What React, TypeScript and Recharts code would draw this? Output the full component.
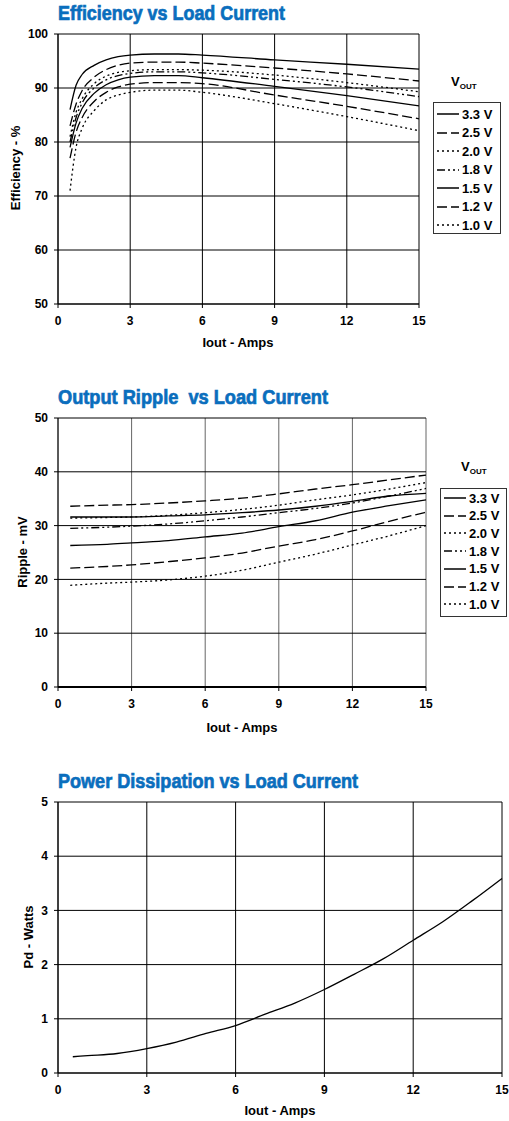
import React from 'react';
import { LineChart, Line, XAxis, YAxis, CartesianGrid } from 'recharts';

// ---------- data ----------
const xTicks = [0, 3, 6, 9, 12, 15];
const voutLabels = ['3.3 V', '2.5 V', '2.0 V', '1.8 V', '1.5 V', '1.2 V', '1.0 V'];

const effCurrent = [0.5, 0.75, 1, 1.5, 2, 2.5, 3, 4, 5, 6, 9, 12, 15];
const eff33 = [86.0, 90.5, 92.5, 94.2, 95.2, 95.8, 96.1, 96.3, 96.3, 96.1, 95.2, 94.4, 93.5];
const eff25 = [83.0, 87.0, 89.5, 92.0, 93.4, 94.2, 94.6, 94.8, 94.8, 94.6, 93.7, 92.6, 91.3];
const eff20 = [81.0, 85.5, 88.0, 90.8, 92.2, 92.9, 93.2, 93.4, 93.4, 93.3, 92.4, 91.0, 89.3];
const eff18 = [80.0, 84.5, 87.2, 90.0, 91.5, 92.3, 92.7, 93.0, 93.0, 92.8, 91.6, 90.2, 88.4];
const eff15 = [79.0, 83.5, 86.2, 89.0, 90.6, 91.5, 92.0, 92.3, 92.3, 91.9, 90.3, 88.6, 86.7];
const eff12 = [77.0, 81.8, 84.5, 87.5, 89.2, 90.2, 90.7, 91.0, 91.0, 90.8, 88.7, 86.6, 84.3];
const eff10 = [71.0, 79.0, 82.5, 85.8, 87.8, 88.7, 89.2, 89.6, 89.6, 89.2, 87.1, 84.7, 82.1];
const effTicks = [50, 60, 70, 80, 90, 100];

const ripCurrent = [0.5, 2, 3, 4.5, 6, 7.5, 9, 10.5, 12, 13.5, 15];
const rip33 = [31.6, 31.6, 31.6, 31.8, 32.0, 32.4, 32.9, 33.6, 34.5, 35.5, 36.0];
const rip25 = [33.6, 33.8, 33.9, 34.2, 34.6, 35.1, 35.9, 36.8, 37.6, 38.5, 39.4];
const rip20 = [31.4, 31.5, 31.6, 31.9, 32.4, 33.0, 33.8, 34.8, 35.7, 36.8, 38.0];
const rip18 = [29.5, 29.7, 29.9, 30.3, 30.9, 31.6, 32.4, 33.2, 34.2, 35.5, 36.9];
const rip15 = [26.3, 26.5, 26.8, 27.2, 27.9, 28.6, 29.8, 30.9, 32.5, 33.7, 34.8];
const rip12 = [22.1, 22.4, 22.7, 23.3, 24.0, 24.9, 26.2, 27.4, 29.0, 30.8, 32.5];
const rip10 = [18.9, 19.3, 19.5, 19.9, 20.6, 21.7, 23.2, 24.7, 26.4, 28.1, 30.0];
const ripTicks = [0, 10, 20, 30, 40, 50];

const pdCurrent = [0.5, 1, 2, 3, 4, 5, 6, 7, 8, 9, 10, 11, 12, 13, 14, 15];
const pdWatts = [0.30, 0.32, 0.36, 0.45, 0.57, 0.73, 0.875, 1.085, 1.29, 1.54, 1.82, 2.11, 2.45, 2.79, 3.18, 3.59];
const pdTicks = [0, 1, 2, 3, 4, 5];

// ---------- styles ----------
const keys = ['v33', 'v25', 'v20', 'v18', 'v15', 'v12', 'v10'];
const dashes = ['', '10 4', '2 3', '8 3 2 3 2 3', '', '10 4', '2 3'];
const FONT = '"Liberation Sans", Arial, sans-serif';
const TITLE_FONT = '"Liberation Sans Narrow", "Liberation Sans", Arial, sans-serif';
const BLUE = '#0a6ebd';

const effData = effCurrent.map((x, i) => ({
  x, v33: eff33[i], v25: eff25[i], v20: eff20[i], v18: eff18[i], v15: eff15[i], v12: eff12[i], v10: eff10[i],
}));
const ripData = ripCurrent.map((x, i) => ({
  x, v33: rip33[i], v25: rip25[i], v20: rip20[i], v18: rip18[i], v15: rip15[i], v12: rip12[i], v10: rip10[i],
}));
const pdData = pdCurrent.map((x, i) => ({ x, pd: pdWatts[i] }));

const tickStyle = { fontFamily: FONT, fontWeight: 700, fontSize: 12, fill: '#000' };

function Legend({ left, top, width, height, rowTop, rowGap, vx, vy }: any) {
  return (
    <>
      <div style={{ position: 'absolute', left: vx - 14, top: vy - 9, fontFamily: FONT, fontWeight: 700, fontSize: 13, color: '#000', whiteSpace: 'nowrap' }}>
        V<span style={{ fontSize: 8, position: 'relative', top: 3 }}>OUT</span>
      </div>
      <div style={{ position: 'absolute', left, top, width, height, border: '1px solid #333', boxSizing: 'border-box', background: '#fff' }}>
        {voutLabels.map((lab, i) => (
          <div key={lab} style={{ position: 'absolute', left: 3, top: rowTop + i * rowGap - 8, height: 16, display: 'flex', alignItems: 'center', whiteSpace: 'nowrap' }}>
            <svg width={22} height={6} style={{ display: 'block' }}>
              <line x1={0} y1={3} x2={22} y2={3} stroke="#000" strokeWidth={1.5} strokeDasharray={dashes[i]} />
            </svg>
            <span style={{ marginLeft: 3, fontFamily: FONT, fontWeight: 700, fontSize: 13, color: '#000' }}>{lab}</span>
          </div>
        ))}
      </div>
    </>
  );
}

export default function App() {
  return (
    <div style={{ position: 'absolute', left: 0, top: 0, width: 509, height: 1121, background: '#fff', overflow: 'hidden' }}>
      {/* Efficiency */}
      <div style={{ position: 'absolute', left: 0, top: 0 }}>
        <LineChart width={509} height={360} data={effData} margin={{ top: 34, right: 90, left: 8, bottom: 26 }}>
          <CartesianGrid stroke="#000" strokeWidth={1} />
          <XAxis dataKey="x" type="number" domain={[0, 15]} ticks={xTicks} height={30} tick={tickStyle} tickSize={4} tickMargin={8} axisLine={{ stroke: '#000' }} tickLine={{ stroke: '#000' }} interval={0} />
          <YAxis type="number" domain={[50, 100]} ticks={effTicks} width={50} tick={tickStyle} tickSize={4} tickMargin={6} axisLine={{ stroke: '#000' }} tickLine={{ stroke: '#000' }} interval={0} />
          {keys.map((k, i) => (
            <Line key={k} dataKey={k} type="monotone" stroke="#000" strokeWidth={1.3} strokeDasharray={dashes[i] || undefined} dot={false} isAnimationActive={false} />
          ))}
        </LineChart>
      </div>
      {/* Ripple */}
      <div style={{ position: 'absolute', left: 0, top: 380 }}>
        <LineChart width={509} height={370} data={ripData} margin={{ top: 38, right: 83, left: 8, bottom: 33 }}>
          <CartesianGrid stroke="#666" strokeWidth={1} horizontal={false} />
          <CartesianGrid stroke="#000" strokeWidth={1} vertical={false} />
          <XAxis dataKey="x" type="number" domain={[0, 15]} ticks={xTicks} height={30} tick={tickStyle} tickSize={4} tickMargin={8} axisLine={{ stroke: '#000', strokeWidth: 2 }} tickLine={{ stroke: '#000' }} interval={0} />
          <YAxis type="number" domain={[0, 50]} ticks={ripTicks} width={50} tick={tickStyle} tickSize={4} tickMargin={6} axisLine={{ stroke: '#000' }} tickLine={{ stroke: '#000' }} interval={0} />
          {keys.map((k, i) => (
            <Line key={k} dataKey={k} type="monotone" stroke="#000" strokeWidth={1.3} strokeDasharray={dashes[i] || undefined} dot={false} isAnimationActive={false} />
          ))}
        </LineChart>
      </div>
      {/* Power */}
      <div style={{ position: 'absolute', left: 0, top: 760 }}>
        <LineChart width={509} height={361} data={pdData} margin={{ top: 42, right: 7, left: 8, bottom: 18 }}>
          <CartesianGrid stroke="#000" strokeWidth={1} />
          <XAxis dataKey="x" type="number" domain={[0, 15]} ticks={xTicks} height={30} tick={tickStyle} tickSize={4} tickMargin={8} axisLine={{ stroke: '#000' }} tickLine={{ stroke: '#000' }} interval={0} />
          <YAxis type="number" domain={[0, 5]} ticks={pdTicks} width={50} tick={tickStyle} tickSize={4} tickMargin={6} axisLine={{ stroke: '#000' }} tickLine={{ stroke: '#000' }} interval={0} />
          <Line dataKey="pd" type="monotone" stroke="#000" strokeWidth={1.3} dot={false} isAnimationActive={false} />
        </LineChart>
      </div>

      {/* Text overlay */}
      <svg width={509} height={1121} style={{ position: 'absolute', left: 0, top: 0, pointerEvents: 'none' }}>
        <g fontFamily={TITLE_FONT} fontWeight={700} fill={BLUE} stroke={BLUE} strokeWidth={0.7} fontSize={20}>
          <text x={58} y={19.5} textLength={227} lengthAdjust="spacingAndGlyphs">Efficiency vs Load Current</text>
          <text x={58} y={404} textLength={270} lengthAdjust="spacingAndGlyphs" xmlSpace="preserve">Output Ripple  vs Load Current</text>
          <text x={58} y={788} textLength={300} lengthAdjust="spacingAndGlyphs">Power Dissipation vs Load Current</text>
        </g>
        <g fontFamily={FONT} fontWeight={700} fill="#000" fontSize={13} textAnchor="middle">
          <text x={238} y={347}>Iout - Amps</text>
          <text x={242} y={732}>Iout - Amps</text>
          <text x={280} y={1115}>Iout - Amps</text>
          <text transform="translate(20,168) rotate(-90)">Efficiency - %</text>
          <text transform="translate(27,552) rotate(-90)">Ripple - mV</text>
          <text transform="translate(33,937) rotate(-90)">Pd - Watts</text>
        </g>
      </svg>

      <Legend left={433} top={102} width={68} height={132} rowTop={11} rowGap={18.5} vx={465} vy={83} />
      <Legend left={440} top={488} width={67} height={129} rowTop={9} rowGap={17.7} vx={475} vy={468} />
    </div>
  );
}
